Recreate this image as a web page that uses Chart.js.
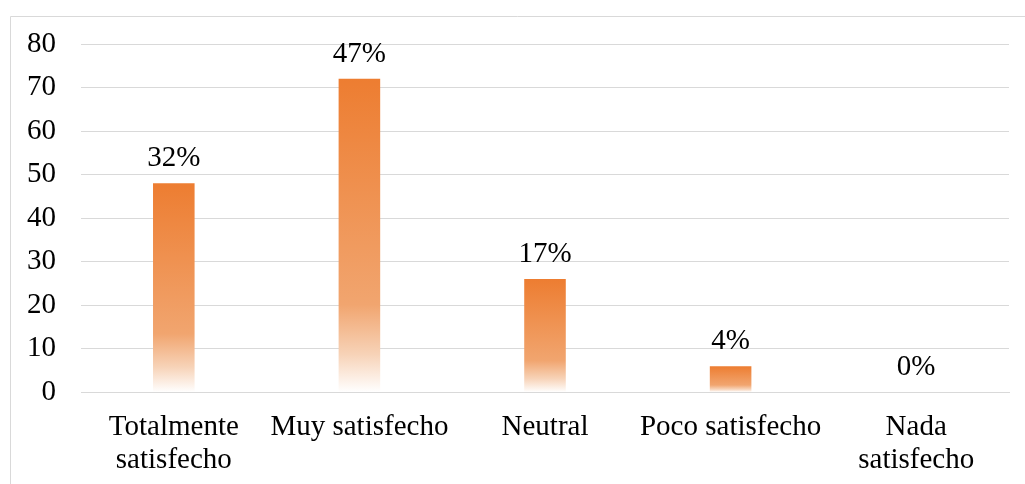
<!DOCTYPE html>
<html>
<head>
<meta charset="utf-8">
<script src="https://cdn.jsdelivr.net/npm/chart.js@4/dist/chart.umd.min.js"></script>
<style>
  html, body { margin: 0; padding: 0; background: #fff; }
  #wrap { width: 1025px; height: 484px; position: relative; }
</style>
</head>
<body>
<div id="wrap"><canvas id="chart"></canvas></div>
<script>
// Survey responses: level of satisfaction
const categories = [
  ['Totalmente', 'satisfecho'],
  'Muy satisfecho',
  'Neutral',
  'Poco satisfecho',
  ['Nada', 'satisfecho']
];
const counts = [48, 72, 26, 6, 0];
const yTicks = [0, 10, 20, 30, 40, 50, 60, 70, 80];

const total = counts.reduce((a, b) => a + b, 0);
const shares = counts.map(v => Math.round(v / total * 100) + '%');

const FONT = "'Liberation Serif', 'Times New Roman', serif";

// Vertical fade per bar: solid orange at the top, white at the base
function barGradient(ctx) {
  const chart = ctx.chart;
  const y = chart.scales && chart.scales.y;
  if (!chart.chartArea || !y || ctx.dataIndex === undefined) return '#ED7D31';
  const v = ctx.raw;
  const top = y.getPixelForValue(v);
  const base = y.getPixelForValue(0);
  if (!(base > top)) return '#ED7D31';
  const g = chart.ctx.createLinearGradient(0, top, 0, base);
  g.addColorStop(0, '#ED7D31');
  g.addColorStop(0.72, '#F1A56F');
  g.addColorStop(0.88, '#F7D3B8');
  g.addColorStop(1, '#FFFFFF');
  return g;
}

// Thin frame along the left and top edges
const framePlugin = {
  id: 'frame',
  beforeDraw(chart) {
    const c = chart.ctx;
    c.save();
    c.strokeStyle = '#d9d9d9';
    c.lineWidth = 1;
    c.beginPath();
    c.moveTo(10.5, chart.height);
    c.lineTo(10.5, 16.5);
    c.lineTo(chart.width, 16.5);
    c.stroke();
    c.restore();
  }
};

// Percentage share written above each bar
const shareLabels = {
  id: 'shareLabels',
  afterDatasetsDraw(chart) {
    const c = chart.ctx;
    const meta = chart.getDatasetMeta(0);
    c.save();
    c.font = '29px ' + FONT;
    c.fillStyle = '#000';
    c.textAlign = 'center';
    c.textBaseline = 'alphabetic';
    meta.data.forEach((bar, i) => {
      c.fillText(shares[i], bar.x, bar.y - 17);
    });
    c.restore();
  }
};

new Chart(document.getElementById('chart'), {
  type: 'bar',
  data: {
    labels: categories,
    datasets: [{
      data: counts,
      backgroundColor: barGradient,
      borderWidth: 0,
      categoryPercentage: 1,
      barPercentage: 0.224
    }]
  },
  options: {
    responsive: true,
    maintainAspectRatio: false,
    animation: false,
    layout: { padding: { left: 2, right: 16, top: 44, bottom: -11 } },
    plugins: { legend: { display: false }, tooltip: { enabled: false } },
    scales: {
      x: {
        grid: { display: false, drawTicks: false },
        border: { display: true, color: '#d9d9d9', width: 1 },
        ticks: {
          color: '#000',
          font: { family: FONT, size: 29, lineHeight: 1.15 },
          padding: 18,
          maxRotation: 0,
          autoSkip: false
        }
      },
      y: {
        min: 0,
        max: 80,
        afterBuildTicks(axis) { axis.ticks = yTicks.map(v => ({ value: v })); },
        grid: { color: '#d9d9d9', lineWidth: 1, drawTicks: false },
        border: { display: false },
        ticks: {
          color: '#000',
          font: { family: FONT, size: 29 },
          padding: 25
        }
      }
    }
  },
  plugins: [framePlugin, shareLabels]
});
</script>
</body>
</html>
